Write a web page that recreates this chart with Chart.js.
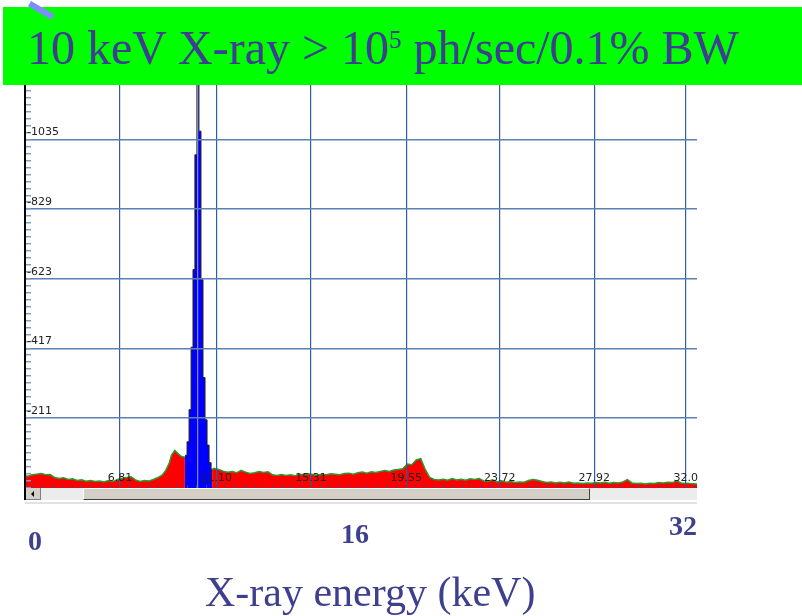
<!DOCTYPE html>
<html>
<head>
<meta charset="utf-8">
<script src="https://cdn.jsdelivr.net/npm/chart.js@4.4.1/dist/chart.umd.min.js"></script>
<style>
  html, body { margin: 0; padding: 0; background: #fff; }
  #page { position: relative; width: 802px; height: 616px; overflow: hidden; background: #fff; }
  #wrap { position: absolute; left: 0; top: 0; width: 802px; height: 616px; }
  .serif { font-family: "Liberation Serif", "Times New Roman", serif; color: #3f3f90; white-space: nowrap; position: absolute; }
  #banner { position: absolute; left: 3px; top: 7px; width: 799px; height: 78px; background: #00ff00; }
  #banner .serif { left: 24px; top: 9px; font-size: 48px; line-height: 48px; }
  #banner .sup { font-size: 25px; vertical-align: 16px; }
  #swoosh { position: absolute; left: 31px; top: 1px; width: 27px; height: 6px; background: #7f8cff; transform: rotate(30deg); transform-origin: left top; }
  .num { font-size: 28px; line-height: 28px; font-weight: bold; }
  #xtitle { left: 205px; top: 571px; font-size: 42px; line-height: 42px; }
  /* barra de scroll de la captura */
  #scroll { position: absolute; left: 24px; top: 488px; width: 673px; height: 12px; background: #ececec; border-left: 2px solid #000; box-sizing: border-box; }
  #scroll .btn { position: absolute; left: 0; top: 0; width: 15px; height: 12px; background: #d4d0c8; border-right: 1px solid #808080; border-bottom: 1px solid #808080; box-sizing: border-box; }
  #scroll .btn::after { content: ""; position: absolute; left: 5px; top: 3px; border-top: 3px solid transparent; border-bottom: 3px solid transparent; border-right: 3px solid #000; }
  #scroll .thumb { position: absolute; left: 57px; top: 0; width: 507px; height: 12px; background: #d4d0c8; border-top: 1px solid #fff; border-left: 1px solid #fff; border-right: 1px solid #404040; border-bottom: 1px solid #404040; box-sizing: border-box; }
  #under { position: absolute; left: 25px; top: 502px; width: 672px; height: 2px; background: #e2e2e2; }
</style>
</head>
<body>
<div id="page">
  <div id="wrap"><canvas id="spec"></canvas></div>
  <div id="scroll"><div class="btn"></div><div class="thumb"></div></div>
  <div id="under"></div>
  <div id="banner"><div class="serif">10 keV X-ray &gt; 10<span class="sup">5</span> ph/sec/0.1% BW</div></div>
  <div id="swoosh"></div>
  <div class="serif num" style="left:28px; top:527px;">0</div>
  <div class="serif num" style="left:341px; top:520px;">16</div>
  <div class="serif num" style="left:669px; top:512px;">32</div>
  <div class="serif" id="xtitle">X-ray energy (keV)</div>
</div>
<script>
// espectro (keV, cuentas)
const leftE = [2.54, 2.7, 2.9, 3.1, 3.3, 3.5, 3.7, 3.9, 4.1, 4.3, 4.5, 4.7, 4.9, 5.1, 5.3, 5.5, 5.7, 5.9, 6.1, 6.3,
  6.5, 6.7, 6.9, 7.1, 7.3, 7.5, 7.7, 7.9, 8.1, 8.3, 8.5, 8.7, 8.85, 9.0, 9.1, 9.25, 9.4, 9.55, 9.70];
const leftC = [40, 38, 42, 44, 46, 42, 43, 34, 31, 33, 28, 30, 25, 27, 23, 25, 22, 24, 21, 25,
  22, 28, 31, 34, 36, 27, 22, 25, 24, 28, 34, 42, 55, 76, 100, 114, 104, 96, 94];

// ROI (pico de 10 keV), canales
const roiE = [9.70, 9.75, 9.84, 9.93, 10.02, 10.10, 10.19, 10.28, 10.37, 10.46, 10.55, 10.64, 10.73, 10.82, 10.91];
const roiC = [96, 100, 140, 235, 420, 650, 990, 1240, 1060, 620, 330, 205, 130, 78, 58];

const rightE = [10.91, 11.0, 11.2, 11.4, 11.6, 11.8, 12.0, 12.2, 12.4, 12.6, 12.8, 13.0, 13.2, 13.4, 13.6, 13.8,
  14.0, 14.2, 14.4, 14.6, 14.8, 15.0, 15.2, 15.4, 15.6, 15.8, 16.0, 16.2, 16.4, 16.6, 16.8, 17.0, 17.2, 17.4,
  17.6, 17.8, 18.0, 18.2, 18.4, 18.6, 18.8, 19.0, 19.2, 19.4, 19.6, 19.8, 20.0, 20.2, 20.4, 20.6, 20.8, 21.0,
  21.2, 21.4, 21.6, 21.8, 22.0, 22.2, 22.4, 22.6, 22.8, 23.0, 23.2, 23.4, 23.6, 23.8, 24.0, 24.2, 24.4, 24.6,
  24.8, 25.0, 25.2, 25.4, 25.6, 25.8, 26.0, 26.2, 26.4, 26.6, 26.8, 27.0, 27.2, 27.4, 27.6, 27.8, 28.0, 28.2,
  28.4, 28.6, 28.8, 29.0, 29.2, 29.4, 29.6, 29.8, 30.0, 30.2, 30.4, 30.6, 30.8, 31.0, 31.2, 31.4, 31.6, 31.8,
  32.0, 32.2, 32.5];
const rightC = [58, 61, 58, 53, 50, 52, 48, 55, 50, 46, 48, 52, 49, 51, 42, 40,
  43, 40, 42, 39, 44, 42, 45, 43, 41, 44, 42, 45, 44, 42, 46, 47, 44, 48,
  50, 47, 51, 49, 52, 55, 52, 56, 58, 60, 74, 72, 86, 90, 58, 34, 28, 27,
  29, 26, 31, 27, 29, 26, 30, 28, 31, 24, 22, 27, 21, 24, 20, 22, 19, 21,
  20, 25, 28, 26, 22, 19, 21, 18, 20, 18, 21, 17, 18, 16, 18, 17, 19, 18,
  20, 17, 19, 18, 21, 28, 18, 16, 17, 15, 17, 16, 19, 18, 20, 19, 24, 18,
  17, 16, 15];

// cursor del MCA
const cursorE = [10.27];

// ejes
const xTickValues = [6.81, 11.10, 15.31, 19.55, 23.72, 27.92, 32.0];
const xTickLabels = ["6.81", "11.10", "15.31", "19.55", "23.72", "27.92", "32.0"];
const yTickValues = [211, 417, 623, 829, 1035];
const yTickLabels = ["211", "417", "623", "829", "1035"];

const X_MIN = 2.58, X_MAX = 32.5;
const Y_MIN = 0, Y_MAX = 1330;

// 10 subdivisiones entre marcas principales
function subdivide(majors, lo, hi) {
  const out = [];
  const first = (majors[1] - majors[0]) / 10;
  for (let v = majors[0] - first; v >= lo; v -= first) out.unshift(v);
  for (let i = 0; i < majors.length - 1; i++) {
    const step = (majors[i + 1] - majors[i]) / 10;
    for (let k = 0; k < 10; k++) out.push(majors[i] + step * k);
  }
  const n = majors.length - 1;
  const last = (majors[n] - majors[n - 1]) / 10;
  for (let v = majors[n]; v <= hi + 1e-9; v += last) out.push(v);
  return out;
}

function majorIndex(v, majors) {
  return majors.findIndex(m => Math.abs(m - v) < 1e-6);
}

const pts = (es, cs) => es.map((e, i) => ({ x: e, y: cs[i] }));

const redStyle = {
  fill: "origin",
  backgroundColor: "#ff0000",
  borderColor: "#2a9a2a",
  borderWidth: 1.5,
  pointRadius: 0,
  tension: 0,
  order: 2
};

const ctx = document.getElementById("spec").getContext("2d");
const chart = new Chart(ctx, {
  type: "line",
  data: {
    datasets: [
      Object.assign({ label: "bajo", data: pts(leftE, leftC) }, redStyle),
      Object.assign({ label: "alto", data: pts(rightE, rightC) }, redStyle),
      {
        label: "ROI",
        data: pts(roiE, roiC),
        fill: "origin",
        backgroundColor: "#0000ff",
        borderColor: "#222222",
        borderWidth: 1,
        stepped: "middle",
        pointRadius: 0,
        order: 1
      },
      {
        label: "cursor",
        data: [{ x: cursorE[0], y: Y_MIN }, { x: cursorE[0], y: Y_MAX }],
        borderColor: "#a8a8a8",
        borderWidth: 1,
        fill: false,
        pointRadius: 0,
        order: 0
      }
    ]
  },
  options: {
    animation: false,
    responsive: true,
    maintainAspectRatio: false,
    layout: { padding: { left: 25, right: 105, top: 40, bottom: 127 } },
    plugins: {
      legend: { display: false },
      tooltip: { enabled: false }
    },
    scales: {
      x: {
        type: "linear",
        min: X_MIN,
        max: X_MAX,
        border: { display: false },
        afterBuildTicks: s => { s.ticks = subdivide(xTickValues, X_MIN, X_MAX).map(v => ({ value: v })); },
        afterFit: s => { s.height = 0; },
        grid: {
          z: 1,
          color: c => (c.tick && majorIndex(c.tick.value, xTickValues) >= 0) ? "#2f5f9f" : "rgba(0,0,0,0)",
          lineWidth: 1.2,
          tickLength: -4,
          tickColor: "#2a4fa0",
          tickWidth: 1
        },
        ticks: {
          z: 1,
          mirror: true,
          autoSkip: false,
          maxRotation: 0,
          padding: 4,
          color: "#222",
          font: { family: "DejaVu Sans", size: 11 },
          callback: v => { const i = majorIndex(v, xTickValues); return i >= 0 ? xTickLabels[i] : ""; }
        }
      },
      y: {
        min: Y_MIN,
        max: Y_MAX,
        border: { display: true, color: "#000", width: 2, z: 1 },
        afterBuildTicks: s => { s.ticks = subdivide(yTickValues, Y_MIN, Y_MAX).map(v => ({ value: v })); },
        afterFit: s => { s.width = 0; },
        grid: {
          z: 1,
          color: c => (c.tick && majorIndex(c.tick.value, yTickValues) >= 0) ? "#5b80b4" : "rgba(0,0,0,0)",
          lineWidth: 1.4,
          tickLength: -6,
          tickColor: "#7e9cc6",
          tickWidth: 1.5
        },
        ticks: {
          z: 1,
          mirror: true,
          autoSkip: false,
          padding: 2,
          labelOffset: -7,
          color: "#222",
          font: { family: "DejaVu Sans", size: 11 },
          callback: v => { const i = majorIndex(v, yTickValues); return i >= 0 ? "-" + yTickLabels[i] : ""; }
        }
      }
    }
  }
});
</script>
</body>
</html>
